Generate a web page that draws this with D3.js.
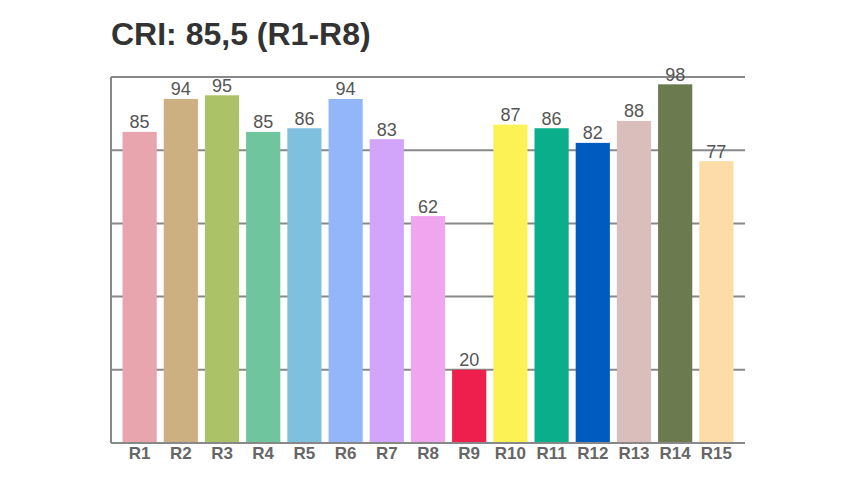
<!DOCTYPE html>
<html>
<head>
<meta charset="utf-8">
<script src="https://cdn.jsdelivr.net/npm/d3@7"></script>
<style>
  body { margin: 0; background: #fff; }
  svg { font-family: "Liberation Sans", Arial, sans-serif; }
</style>
</head>
<body>
<div id="chart"></div>
<script>
// chart data
var categories = ["R1", "R2", "R3", "R4", "R5", "R6", "R7", "R8", "R9", "R10", "R11", "R12", "R13", "R14", "R15"];
var values = [85, 94, 95, 85, 86, 94, 83, 62, 20, 87, 86, 82, 88, 98, 77];
var colors = ["#E8A5AE", "#CDB082", "#ABC266", "#6FC59E", "#7FC0DE", "#93B6FB", "#D2A5FA", "#EFA6EE",
              "#EE1F4C", "#FDF255", "#0AAE8A", "#005BC1", "#D9BEBB", "#6B7A4F", "#FEDCA8"];
var yTicks = [0, 20, 40, 60, 80, 100];
var title = "CRI: 85,5 (R1-R8)";

var width = 862, height = 484;
var margin = { top: 77, right: 117, bottom: 41, left: 111 };

var svg = d3.select("#chart")
    .append("svg")
    .attr("width", width)
    .attr("height", height);

var x = d3.scaleBand()
    .domain(categories)
    .range([margin.left, width - margin.right])
    .paddingInner(0.17)
    .paddingOuter(0.28);

var y = d3.scaleLinear()
    .domain([0, 100])
    .range([height - margin.bottom, margin.top]);

// horizontal grid lines
svg.append("g")
    .selectAll("line")
    .data(yTicks.slice(1))
    .join("line")
    .attr("x1", margin.left)
    .attr("x2", width - margin.right)
    .attr("y1", d => y(d))
    .attr("y2", d => y(d))
    .attr("stroke", "#888")
    .attr("stroke-width", 2);

// left axis line
svg.append("line")
    .attr("x1", margin.left)
    .attr("x2", margin.left)
    .attr("y1", y(100))
    .attr("y2", y(0))
    .attr("stroke", "#888")
    .attr("stroke-width", 2);

// bars
svg.append("g")
    .selectAll("rect")
    .data(values)
    .join("rect")
    .attr("x", (d, i) => x(categories[i]))
    .attr("y", d => y(d))
    .attr("width", x.bandwidth())
    .attr("height", d => y(0) - y(d))
    .attr("fill", (d, i) => colors[i]);

// bottom axis line
svg.append("line")
    .attr("x1", margin.left)
    .attr("x2", width - margin.right)
    .attr("y1", y(0))
    .attr("y2", y(0))
    .attr("stroke", "#888")
    .attr("stroke-width", 2);

// value labels
svg.append("g")
    .selectAll("text")
    .data(values)
    .join("text")
    .attr("x", (d, i) => x(categories[i]) + x.bandwidth() / 2)
    .attr("y", d => y(d) - 3.5)
    .attr("text-anchor", "middle")
    .attr("font-size", 18)
    .attr("fill", "#555")
    .text(d => d);

// category labels
svg.append("g")
    .selectAll("text")
    .data(categories)
    .join("text")
    .attr("x", d => x(d) + x.bandwidth() / 2)
    .attr("y", y(0) + 16)
    .attr("text-anchor", "middle")
    .attr("font-size", 17)
    .attr("font-weight", "bold")
    .attr("fill", "#666")
    .text(d => d);

// title
svg.append("text")
    .attr("x", margin.left)
    .attr("y", 45)
    .attr("font-size", 32)
    .attr("font-weight", "bold")
    .attr("fill", "#333")
    .text(title);
</script>
</body>
</html>
